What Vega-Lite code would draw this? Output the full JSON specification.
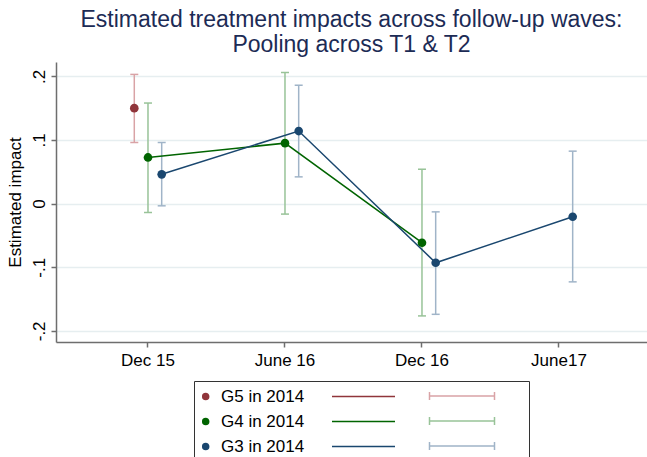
{
  "$schema": "https://vega.github.io/schema/vega-lite/v6.json",
  "width": 591,
  "height": 280,
  "autosize": {"type": "none"},
  "padding": {"left": 56, "top": 62, "right": 0, "bottom": 115},
  "background": "white",
  "config": {
    "font": "Liberation Sans",
    "view": {"stroke": null},
    "axis": {"labelFont": "Liberation Sans", "titleFont": "Liberation Sans"},
    "legend": {"labelFont": "Liberation Sans", "titleFont": "Liberation Sans"}
  },
  "title": {
    "text": ["Estimated treatment impacts across follow-up waves:", "Pooling across T1 & T2"],
    "fontSize": 23,
    "fontWeight": "normal",
    "font": "Liberation Sans",
    "color": "#1c2b55",
    "anchor": "middle",
    "lineHeight": 25,
    "offset": 5
  },
  "data": {
    "values": [
      {"series": "G5 in 2014", "wave": 1, "est": 0.150, "lo": 0.096, "hi": 0.203},
      {"series": "G4 in 2014", "wave": 1, "est": 0.0725, "lo": -0.014, "hi": 0.158},
      {"series": "G4 in 2014", "wave": 2, "est": 0.095, "lo": -0.0165, "hi": 0.206},
      {"series": "G4 in 2014", "wave": 3, "est": -0.0615, "lo": -0.1765, "hi": 0.054},
      {"series": "G3 in 2014", "wave": 1, "est": 0.046, "lo": -0.0035, "hi": 0.096},
      {"series": "G3 in 2014", "wave": 2, "est": 0.114, "lo": 0.042, "hi": 0.186},
      {"series": "G3 in 2014", "wave": 3, "est": -0.093, "lo": -0.174, "hi": -0.013},
      {"series": "G3 in 2014", "wave": 4, "est": -0.0207, "lo": -0.123, "hi": 0.0824}
    ]
  },
  "encoding": {
    "x": {
      "field": "wave",
      "type": "ordinal",
      "scale": {"type": "band", "paddingInner": 0.8, "paddingOuter": 0.557, "align": 0.513},
      "axis": {
        "title": null,
        "labelExpr": "datum.value == 1 ? 'Dec 15' : datum.value == 2 ? 'June 16' : datum.value == 3 ? 'Dec 16' : 'June17'",
        "labelAngle": 0,
        "bandPosition": 0.5,
        "grid": false,
        "tickSize": 5,
        "tickColor": "#6e6e6e",
        "tickWidth": 1.5,
        "domainColor": "#6e6e6e",
        "domainWidth": 1.5,
        "labelFontSize": 17,
        "labelFontWeight": "normal",
        "labelColor": "#000000",
        "labelPadding": 5
      }
    },
    "xOffset": {
      "field": "series",
      "type": "nominal",
      "scale": {"type": "point", "domain": ["G5 in 2014", "G4 in 2014", "G3 in 2014"], "range": [0, 27.4], "padding": 0}
    }
  },
  "layer": [
    {
      "mark": {"type": "rule", "strokeWidth": 1.5},
      "encoding": {
        "y": {
          "field": "lo",
          "type": "quantitative",
          "scale": {"domain": [-0.2175, 0.2225], "nice": false, "zero": false},
          "axis": {
            "title": "Estimated impact",
            "titleFontSize": 17,
            "titleFontWeight": "normal",
            "titleColor": "#000000",
            "titlePadding": 6,
            "values": [-0.2, -0.1, 0, 0.1, 0.2],
            "labelExpr": "datum.value > 0.15 ? '.2' : datum.value > 0.05 ? '.1' : datum.value > -0.05 ? '0' : datum.value > -0.15 ? '-.1' : '-.2'",
            "labelAngle": -90,
            "labelAlign": "center",
            "labelBaseline": "alphabetic",
            "labelPadding": 7,
            "labelFontSize": 17,
            "labelColor": "#000000",
            "tickSize": 5,
            "tickColor": "#6e6e6e",
            "tickWidth": 1.5,
            "domainColor": "#6e6e6e",
            "domainWidth": 1.5,
            "grid": true,
            "gridColor": "#e6eef0",
            "gridWidth": 1.5
          }
        },
        "y2": {"field": "hi"},
        "stroke": {
          "field": "series",
          "type": "nominal",
          "sort": "descending",
          "scale": {"range": ["#d9a3a6", "#98c398", "#a0b4c8"]},
          "legend": {
            "orient": "none",
            "legendX": 357,
            "legendY": 317.5,
            "padding": 8,
            "title": null,
            "symbolType": "M0,0H65M0,-4V4M65,-4V4",
            "symbolSize": 4,
            "symbolStrokeWidth": 1.5,
            "symbolOpacity": 1,
            "labelExpr": "''",
            "labelFontSize": 17,
            "labelOffset": 0,
            "rowPadding": 7
          }
        }
      }
    },
    {
      "mark": {"type": "point", "shape": "stroke", "size": 64, "strokeWidth": 1.5, "filled": false, "opacity": 1},
      "encoding": {
        "y": {"field": "lo", "type": "quantitative"},
        "stroke": {"field": "series", "type": "nominal", "sort": "descending"}
      }
    },
    {
      "mark": {"type": "point", "shape": "stroke", "size": 64, "strokeWidth": 1.5, "filled": false, "opacity": 1},
      "encoding": {
        "y": {"field": "hi", "type": "quantitative"},
        "stroke": {"field": "series", "type": "nominal", "sort": "descending"}
      }
    },
    {
      "mark": {"type": "line", "strokeWidth": 1.5},
      "encoding": {
        "y": {"field": "est", "type": "quantitative"},
        "color": {
          "field": "series",
          "type": "nominal",
          "scale": {"domain": ["G5 in 2014", "G4 in 2014", "G3 in 2014"], "range": ["#90353b", "#006400", "#1a476f"]}
        }
      }
    },
    {
      "mark": {"type": "point", "filled": true, "size": 75, "opacity": 1},
      "encoding": {
        "y": {"field": "est", "type": "quantitative"},
        "color": {
          "field": "series",
          "type": "nominal",
          "scale": {"domain": ["G5 in 2014", "G4 in 2014", "G3 in 2014"], "range": ["#90353b", "#006400", "#1a476f"]},
          "legend": {
            "orient": "none",
            "legendX": 138,
            "legendY": 319,
            "padding": 7,
            "strokeColor": "#333333",
            "title": "00000000000",
            "titleOrient": "right",
            "titleColor": "rgba(0,0,0,0)",
            "titleFontSize": 17,
            "titlePadding": 19,
            "symbolType": "M-6.8,0A3,3,0,1,1,-0.8,0A3,3,0,1,1,-6.8,0ZM122.5,0H185.5",
            "symbolSize": 4,
            "symbolStrokeWidth": 1.5,
            "symbolOpacity": 1,
            "labelFontSize": 17,
            "labelColor": "#000000",
            "labelOffset": 3,
            "rowPadding": 7,
            "encode": {"symbols": {"update": {"stroke": {"scale": "color", "field": "value"}, "fill": {"scale": "color", "field": "value"}, "strokeWidth": {"value": 1.5}}}}
          }
        }
      }
    }
  ]
}
